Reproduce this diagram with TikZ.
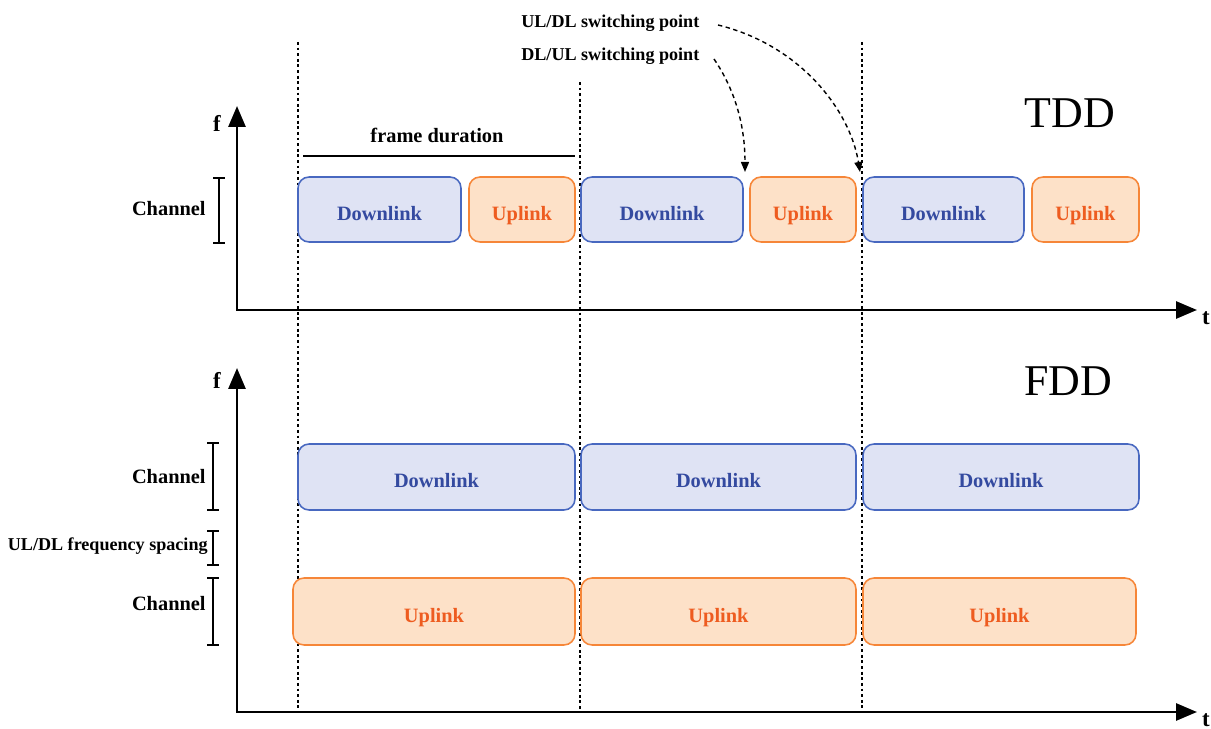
\documentclass[tikz,border=0pt]{standalone}
\usepackage{fontspec}
\setmainfont{Liberation Serif}
\usetikzlibrary{arrows.meta,calc}
\definecolor{dlfill}{RGB}{223,227,244}
\definecolor{dldraw}{RGB}{72,104,192}
\definecolor{dltext}{RGB}{52,74,160}
\definecolor{ulfill}{RGB}{253,225,200}
\definecolor{uldraw}{RGB}{246,134,56}
\definecolor{ultext}{RGB}{238,92,32}
\tikzset{
  blk/.style={rounded corners=0.22cm, line width=0.9pt, inner sep=0pt, text height=3.0ex, text depth=0.3ex, font=\fontsize{11.6}{13}\selectfont\bfseries},
  dl/.style={blk, draw=dldraw, fill=dlfill, text=dltext},
  ul/.style={blk, draw=uldraw, fill=ulfill, text=ultext},
  lbl/.style={font=\fontsize{10.3}{12}\selectfont\bfseries, inner sep=0pt},
  lblb/.style={font=\fontsize{11.6}{13}\selectfont\bfseries, inner sep=0pt},
  axis/.style={line width=1.6pt, -{Triangle[length=0.42cm,width=0.34cm]}},
  guide/.style={line width=0.6pt, dash pattern=on 1.6pt off 1.6pt},
  sw/.style={line width=0.8pt, dash pattern=on 2.5pt off 2pt, -{Triangle[length=0.2cm,width=0.16cm]}},
  big/.style={font=\fontsize{25}{28}\selectfont, inner sep=0pt},
  fl/.style={font=\fontsize{13}{14}\selectfont\bfseries, inner sep=0pt}
}
\begin{document}
\begin{tikzpicture}[x=0.02cm,y=-0.02cm]
\useasboundingbox (0,0) rectangle (1211,729);
% guide lines
\coordinate (g1t) at (298,42); \coordinate (g1b) at (298,712);
\coordinate (g2t) at (580,82); \coordinate (g2b) at (580,712);
\coordinate (g3t) at (862,42); \coordinate (g3b) at (862,712);
\draw[guide] (g1t) -- (g1b);
\draw[guide] (g2t) -- (g2b);
\draw[guide] (g3t) -- (g3b);
% TDD axes
\coordinate (o1) at (237,310);
\coordinate (o1b) at (236,310);
\coordinate (fy1) at (237,106);
\coordinate (tx1) at (1197,310);
\draw[axis] (o1) -- (fy1);
\draw[axis] (o1b) -- (tx1);
\node[fl] (f1) at (217,123) {f};
\node[fl, anchor=east] (t1) at (1210,318) {t};
\node[big] (tdd) at (1070,113) {TDD};
% TDD channel bracket
\draw[line width=0.9pt] (219,178) -- (219,243) (213,178) -- (225,178) (213,243) -- (225,243);
\node[lblb, anchor=east] (ch1) at (206,209) {Channel};
% frame duration
\coordinate (fd1) at (303,156); \coordinate (fd2) at (575,156);
\draw[line width=0.9pt] (fd1) -- (fd2);
\node[lblb] (fdl) at (437,135) {frame duration};
% TDD blocks
\node[dl, minimum width=3.26cm, minimum height=1.3cm] (d1) at (379.5,209.5) {Downlink};
\node[ul, minimum width=2.12cm, minimum height=1.3cm] (u1) at (522,209.5) {Uplink};
\node[dl, minimum width=3.24cm, minimum height=1.3cm] (d2) at (662,209.5) {Downlink};
\node[ul, minimum width=2.12cm, minimum height=1.3cm] (u2) at (803,209.5) {Uplink};
\node[dl, minimum width=3.22cm, minimum height=1.3cm] (d3) at (943.5,209.5) {Downlink};
\node[ul, minimum width=2.14cm, minimum height=1.3cm] (u3) at (1085.5,209.5) {Uplink};
% switching points
\node[lbl, anchor=west] (uldl) at (521,23) {UL/DL switching point};
\node[lbl, anchor=west] (dlul) at (521,56) {DL/UL switching point};
\coordinate (a1) at (745,172);
\coordinate (a2) at (860,172);
\coordinate (s1) at (714,59);
\coordinate (s2) at (718,25);
\draw[sw] (s1) .. controls (735,90) and (745,125) .. (a1);
\draw[sw] (s2) .. controls (800,45) and (850,110) .. (a2);
% FDD axes
\coordinate (o2) at (237,712);
\coordinate (o2b) at (236,712);
\coordinate (fy2) at (237,368);
\coordinate (tx2) at (1197,712);
\draw[axis] (o2) -- (fy2);
\draw[axis] (o2b) -- (tx2);
\node[fl] (f2) at (217,380) {f};
\node[fl, anchor=east] (t2) at (1210,720) {t};
\node[big] (fdd) at (1068,381) {FDD};
% FDD brackets
\draw[line width=0.9pt] (213,443) -- (213,510) (207,443) -- (219,443) (207,510) -- (219,510);
\node[lblb, anchor=east] (ch2) at (206,477) {Channel};
\draw[line width=0.9pt] (213,531) -- (213,565) (207,531) -- (219,531) (207,565) -- (219,565);
\node[lbl, anchor=east] (sp) at (208,546) {UL/DL frequency spacing};
\draw[line width=0.9pt] (213,578) -- (213,645) (207,578) -- (219,578) (207,645) -- (219,645);
\node[lblb, anchor=east] (ch3) at (206,604) {Channel};
% FDD blocks
\node[dl, minimum width=5.54cm, minimum height=1.32cm] (fd1b) at (436.5,477) {Downlink};
\node[dl, minimum width=5.5cm, minimum height=1.32cm] (fd2b) at (718.5,477) {Downlink};
\node[dl, minimum width=5.52cm, minimum height=1.32cm] (fd3b) at (1001,477) {Downlink};
\node[ul, minimum width=5.64cm, minimum height=1.34cm] (fu1) at (434,611.5) {Uplink};
\node[ul, minimum width=5.5cm, minimum height=1.34cm] (fu2) at (718.5,611.5) {Uplink};
\node[ul, minimum width=5.46cm, minimum height=1.34cm] (fu3) at (999.5,611.5) {Uplink};
\end{tikzpicture}
\end{document}
